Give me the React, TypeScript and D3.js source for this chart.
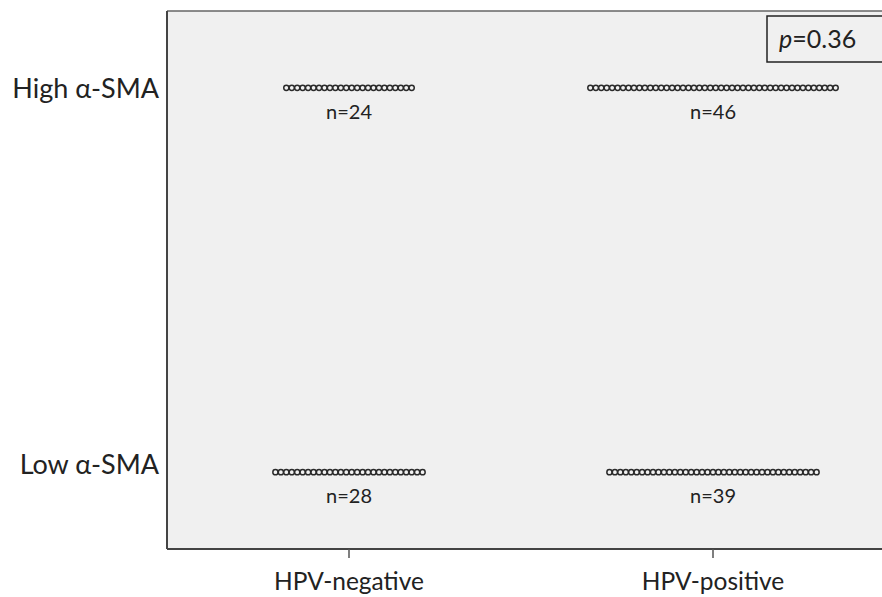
import React from "react";
import * as d3 from "d3";

const groups = ["HPV-negative", "HPV-positive"];
const levels = ["High α-SMA", "Low α-SMA"];
const highCounts = [24, 46];
const lowCounts = [28, 39];
const pLabel = "0.36";

const W = 882;
const H = 597;
const plot = { left: 167, top: 11, right: 895, bottom: 549 };
const spacing = 5.45;
const labelOffsets = [10, 2];
const font = "Lato, 'Open Sans', sans-serif";

export default function App() {
  const x = d3.scalePoint<string>().domain(groups).range([plot.left, plot.right]).padding(0.5);
  const y = d3.scalePoint<string>().domain(levels).range([plot.top, plot.bottom]).padding(0.2);
  const rows = [
    { level: levels[0], counts: highCounts },
    { level: levels[1], counts: lowCounts },
  ];
  return (
    <svg width={W} height={H} style={{ position: "absolute", left: 0, top: 0, background: "#fff" }} fontFamily={font}>
      <rect x={plot.left} y={plot.top} width={plot.right - plot.left} height={plot.bottom - plot.top} fill="#f0f0f0" />
      <line x1={plot.left} x2={plot.right} y1={plot.top} y2={plot.top} stroke="#666" strokeWidth={1.5} />
      <line x1={plot.left} x2={plot.left} y1={plot.top} y2={plot.bottom} stroke="#444" strokeWidth={2} />
      <line x1={plot.left} x2={plot.right} y1={plot.bottom} y2={plot.bottom} stroke="#444" strokeWidth={2} />
      {groups.map((g) => (
        <g key={g}>
          <line x1={x(g)} x2={x(g)} y1={plot.bottom} y2={plot.bottom + 9} stroke="#555" strokeWidth={1.5} />
          <text x={x(g)} y={590} textAnchor="middle" fontSize={24.5} fill="#222">{g}</text>
        </g>
      ))}
      {levels.map((l, i) => (
        <text key={l} x={159} y={(y(l) as number) + labelOffsets[i]} textAnchor="end" fontSize={27} fill="#222">{l}</text>
      ))}
      {rows.map((r) =>
        groups.map((g, gi) => {
          const n = r.counts[gi];
          const cx = x(g) as number;
          const cy = y(r.level) as number;
          return (
            <g key={r.level + g}>
              {d3.range(n).map((i) => (
                <circle key={i} cx={cx + (i - (n - 1) / 2) * spacing} cy={cy} r={2.6} fill="#f2f2f2" stroke="#2a2a2a" strokeWidth={1.5} />
              ))}
              <text x={cx} y={cy + 31} textAnchor="middle" fontSize={20} fill="#222">{`n=${n}`}</text>
            </g>
          );
        })
      )}
      <rect x={767} y={16} width={140} height={46} fill="#f0f0f0" stroke="#222" strokeWidth={1.5} />
      <text x={779} y={48} fontSize={25} fill="#222">
        <tspan fontStyle="italic">p</tspan>
        <tspan>={pLabel}</tspan>
      </text>
    </svg>
  );
}
